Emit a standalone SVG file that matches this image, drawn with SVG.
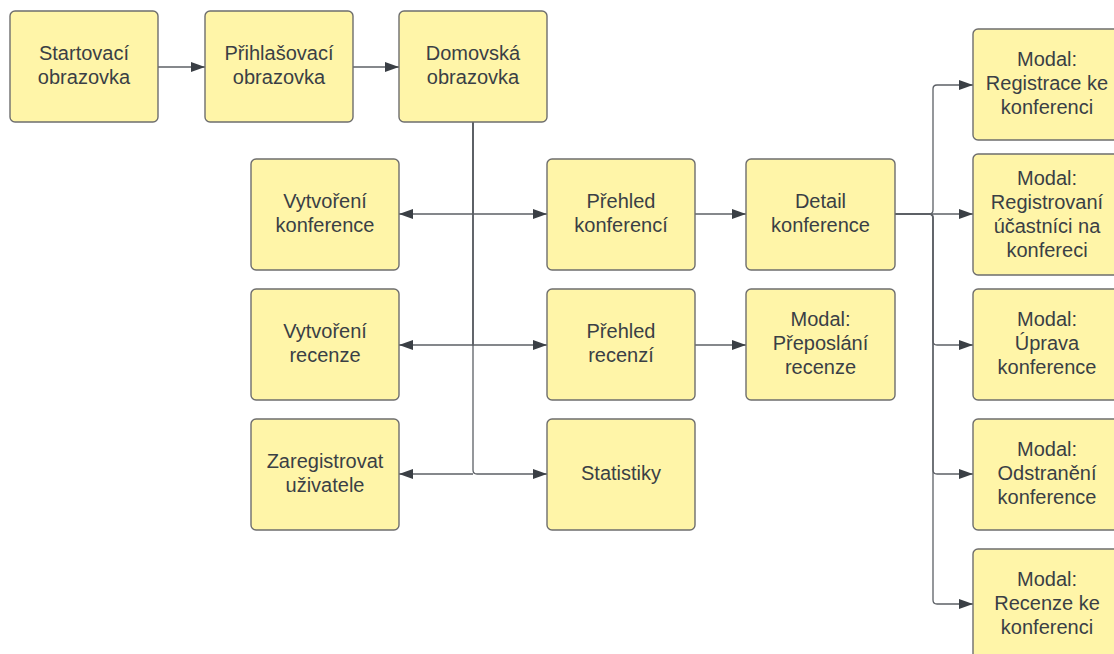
<svg xmlns="http://www.w3.org/2000/svg" width="1114" height="654" viewBox="0 0 1114 654">
  <defs>
    <marker id="arrow" markerUnits="userSpaceOnUse" markerWidth="15" markerHeight="11" refX="14" refY="5" orient="auto-start-reverse">
      <path d="M0,0 L14,5 L0,10 z" fill="#3a3f45"/>
    </marker>
    <style>
      .box { fill: #fff5a8; stroke: #6e6e6e; stroke-width: 1.4; }
      .lbl { font-family: "Liberation Sans", Arial, sans-serif; font-size: 20px; fill: #3a3f45; text-anchor: middle; }
      .wire { fill: none; stroke: #5c6066; stroke-width: 1.3; }
      .one { marker-end: url(#arrow); }
    </style>
  </defs>
  <rect width="1114" height="654" fill="#ffffff"/>

  <!-- connectors -->
  <g id="connectors">
    <path class="wire one" d="M158,67 H205"/>
    <path class="wire one" d="M353,67 H399"/>
    <!-- home screen: shared trunk, branching left and right -->
    <path class="wire one" d="M473,122 V214 H399"/>
    <path class="wire one" d="M473,122 V214 H547"/>
    <path class="wire one" d="M473,122 V345 H399"/>
    <path class="wire one" d="M473,122 V345 H547"/>
    <path class="wire one" d="M473,474 H399"/>
    <path class="wire one" d="M473,122 V470 Q473,474 477,474 H547"/>
    <path class="wire one" d="M695,214 H746"/>
    <path class="wire one" d="M695,345 H746"/>
    <!-- conference detail to its modals -->
    <path class="wire one" d="M895,214 H929 Q933,214 933,210 V89 Q933,85 937,85 H973"/>
    <path class="wire one" d="M895,214 H973"/>
    <path class="wire one" d="M895,214 H929 Q933,214 933,218 V341 Q933,345 937,345 H973"/>
    <path class="wire one" d="M895,214 H929 Q933,214 933,218 V470 Q933,474 937,474 H973"/>
    <path class="wire one" d="M895,214 H929 Q933,214 933,218 V600 Q933,604 937,604 H973"/>
  </g>

  <g id="startovaci">
    <rect class="box" x="10" y="11" width="148" height="111" rx="5"/>
    <text class="lbl" x="84" y="59.5">Startovací</text>
    <text class="lbl" x="84" y="83.5">obrazovka</text>
  </g>
  <g id="prihlasovaci">
    <rect class="box" x="205" y="11" width="148" height="111" rx="5"/>
    <text class="lbl" x="279" y="59.5">Přihlašovací</text>
    <text class="lbl" x="279" y="83.5">obrazovka</text>
  </g>
  <g id="domovska">
    <rect class="box" x="399" y="11" width="148" height="111" rx="5"/>
    <text class="lbl" x="473" y="59.5">Domovská</text>
    <text class="lbl" x="473" y="83.5">obrazovka</text>
  </g>

  <g id="vytvoreni-konference">
    <rect class="box" x="251" y="159" width="148" height="111" rx="5"/>
    <text class="lbl" x="325" y="207.5">Vytvoření</text>
    <text class="lbl" x="325" y="231.5">konference</text>
  </g>
  <g id="prehled-konferenci">
    <rect class="box" x="547" y="159" width="148" height="111" rx="5"/>
    <text class="lbl" x="621" y="207.5">Přehled</text>
    <text class="lbl" x="621" y="231.5">konferencí</text>
  </g>
  <g id="detail-konference">
    <rect class="box" x="746" y="159" width="149" height="111" rx="5"/>
    <text class="lbl" x="820.5" y="207.5">Detail</text>
    <text class="lbl" x="820.5" y="231.5">konference</text>
  </g>

  <g id="vytvoreni-recenze">
    <rect class="box" x="251" y="289" width="148" height="111" rx="5"/>
    <text class="lbl" x="325" y="337.5">Vytvoření</text>
    <text class="lbl" x="325" y="361.5">recenze</text>
  </g>
  <g id="prehled-recenzi">
    <rect class="box" x="547" y="289" width="148" height="111" rx="5"/>
    <text class="lbl" x="621" y="337.5">Přehled</text>
    <text class="lbl" x="621" y="361.5">recenzí</text>
  </g>
  <g id="modal-preposlani">
    <rect class="box" x="746" y="289" width="149" height="111" rx="5"/>
    <text class="lbl" x="820.5" y="325.5">Modal:</text>
    <text class="lbl" x="820.5" y="349.5">Přeposlání</text>
    <text class="lbl" x="820.5" y="373.5">recenze</text>
  </g>

  <g id="zaregistrovat">
    <rect class="box" x="251" y="419" width="148" height="111" rx="5"/>
    <text class="lbl" x="325" y="467.5">Zaregistrovat</text>
    <text class="lbl" x="325" y="491.5">uživatele</text>
  </g>
  <g id="statistiky">
    <rect class="box" x="547" y="419" width="148" height="111" rx="5"/>
    <text class="lbl" x="621" y="479.5">Statistiky</text>
  </g>

  <g id="modal-registrace">
    <rect class="box" x="973" y="29" width="148" height="111" rx="5"/>
    <text class="lbl" x="1047" y="65.5">Modal:</text>
    <text class="lbl" x="1047" y="89.5">Registrace ke</text>
    <text class="lbl" x="1047" y="113.5">konferenci</text>
  </g>
  <g id="modal-ucastnici">
    <rect class="box" x="973" y="154" width="148" height="121" rx="5"/>
    <text class="lbl" x="1047" y="184.5">Modal:</text>
    <text class="lbl" x="1047" y="208.5">Registrovaní</text>
    <text class="lbl" x="1047" y="232.5">účastníci na</text>
    <text class="lbl" x="1047" y="256.5">konfereci</text>
  </g>
  <g id="modal-uprava">
    <rect class="box" x="973" y="289" width="148" height="111" rx="5"/>
    <text class="lbl" x="1047" y="325.5">Modal:</text>
    <text class="lbl" x="1047" y="349.5">Úprava</text>
    <text class="lbl" x="1047" y="373.5">konference</text>
  </g>
  <g id="modal-odstraneni">
    <rect class="box" x="973" y="419" width="148" height="111" rx="5"/>
    <text class="lbl" x="1047" y="455.5">Modal:</text>
    <text class="lbl" x="1047" y="479.5">Odstranění</text>
    <text class="lbl" x="1047" y="503.5">konference</text>
  </g>
  <g id="modal-recenze">
    <rect class="box" x="973" y="549" width="148" height="111" rx="5"/>
    <text class="lbl" x="1047" y="585.5">Modal:</text>
    <text class="lbl" x="1047" y="609.5">Recenze ke</text>
    <text class="lbl" x="1047" y="633.5">konferenci</text>
  </g>
</svg>
